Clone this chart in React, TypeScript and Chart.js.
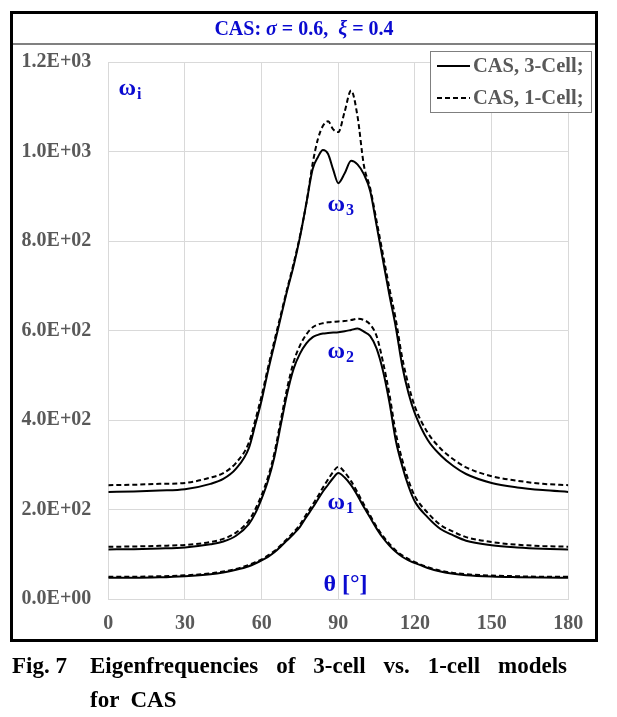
import React, { useEffect, useRef } from "react";
import { Chart, registerables } from "chart.js";

Chart.register(...registerables);

// ---- data ----
const theta = [0, 10, 20, 30, 40, 45, 50, 55, 57.5, 60, 62.5, 65, 67.5, 70, 72.5, 75, 77.5, 80, 82, 84, 86, 88, 90, 92.5, 95, 97.5, 100, 102.5, 105, 107.5, 110, 112.5, 115, 117.5, 120, 125, 130, 135, 140, 150, 160, 170, 180];

const w1Cell3 = [48, 48, 49, 51.5, 56, 60, 66, 74, 80, 87, 95, 105, 118, 132, 146, 162, 184, 205, 223, 241, 256, 271, 282, 272, 255, 232, 206, 182, 158, 137, 120, 106, 95, 87, 81, 70, 62, 57, 54, 51, 49.5, 48.5, 48];
const w1Cell1 = [50.5, 50.5, 51.5, 53.5, 58, 62, 68, 77, 83, 89, 98, 108, 121, 135, 150, 167, 190, 212, 230, 250, 268, 285, 296, 284, 264, 239, 212, 187, 162, 141, 124, 109, 98, 90, 83, 72, 64, 59, 56, 53, 51.5, 50.5, 50.5];

const w2Cell3 = [111.5, 112, 113.5, 116, 123, 129, 142, 168, 192, 225, 265, 318, 390, 460, 515, 549, 572, 586, 591, 594, 595, 596, 597, 599, 602, 605, 598, 588, 560, 510, 440, 355, 298, 252, 218, 183, 157, 143, 131, 121, 116, 113, 111.5];
const w2Cell1 = [117.5, 118, 119.5, 121.5, 128, 135, 149, 176, 201, 233, 273, 327, 400, 472, 530, 567, 592, 608, 614, 617, 619, 620, 621, 622, 624, 627, 624, 614, 588, 530, 458, 372, 312, 265, 230, 193, 166, 151, 139, 128, 122, 119, 117.5];

const w3Cell3 = [240, 241, 243, 246, 258, 269, 292, 338, 390, 445, 510, 570, 630, 690, 745, 809, 885, 962, 988, 1004, 995, 960, 930, 952, 980, 972, 950, 912, 835, 757, 680, 608, 522, 460, 415, 356, 322, 298, 280, 260, 250, 244, 240];
const w3Cell1 = [255, 256, 258, 260, 272, 282, 305, 350, 400, 455, 518, 578, 636, 694, 750, 812, 885, 975, 1028, 1058, 1068, 1050, 1044, 1090, 1137, 1080, 970, 918, 845, 770, 695, 625, 540, 478, 430, 372, 337, 313, 295, 275, 265, 258, 255];

const yTickLabels = ["0.0E+00", "2.0E+02", "4.0E+02", "6.0E+02", "8.0E+02", "1.0E+03", "1.2E+03"];
const xTickLabels = ["0", "30", "60", "90", "120", "150", "180"];
const legendLabels = ["CAS, 3-Cell;", "CAS, 1-Cell;"];

// annotation texts anchored at data coordinates (theta, value)
const annoText = ["ω", "ω", "ω", "ω", "θ [°]"];
const annoSub = ["i", "3", "2", "1", ""];
const annoTheta = [4.0, 85.8, 85.8, 85.8, 84.2];
const annoValue = [1140, 882, 552, 215, 32];

const BLUE = "#0a0ad0";
const GRAY = "#595959";
const SERIF = "'Liberation Serif', 'Times New Roman', serif";

const pts = (ys: number[]) => theta.map((t, i) => ({ x: t, y: ys[i] }));

const legendPlugin = {
  id: "customLegend",
  afterDraw(chart: any) {
    const ctx = chart.ctx;
    ctx.save();
    ctx.fillStyle = "#ffffff";
    ctx.fillRect(430.5, 51.5, 161, 61);
    ctx.strokeStyle = "#7f7f7f";
    ctx.lineWidth = 1;
    ctx.strokeRect(430.5, 51.5, 161, 61);
    const rows = [66, 98];
    const dashes = [[], [5, 3]];
    rows.forEach((y, i) => {
      ctx.beginPath();
      ctx.setLineDash(dashes[i]);
      ctx.strokeStyle = "#000";
      ctx.lineWidth = 2;
      ctx.moveTo(437, y);
      ctx.lineTo(470, y);
      ctx.stroke();
      ctx.setLineDash([]);
      ctx.fillStyle = GRAY;
      ctx.font = `bold 20.5px ${SERIF}`;
      ctx.textAlign = "left";
      ctx.textBaseline = "middle";
      ctx.fillText(legendLabels[i], 473, y + 1);
    });
    ctx.restore();
  },
};

const annoPlugin = {
  id: "annos",
  afterDatasetsDraw(chart: any) {
    const ctx = chart.ctx;
    const xs = chart.scales.x;
    const ys = chart.scales.y;
    ctx.save();
    ctx.fillStyle = BLUE;
    ctx.textAlign = "left";
    ctx.textBaseline = "middle";
    annoText.forEach((t, i) => {
      const x = xs.getPixelForValue(annoTheta[i]);
      const y = ys.getPixelForValue(annoValue[i]);
      ctx.font = `bold 24px ${SERIF}`;
      ctx.fillText(t, x, y);
      const w = ctx.measureText(t).width;
      if (annoSub[i]) {
        ctx.font = `bold 16px ${SERIF}`;
        ctx.fillText(annoSub[i], x + w + 1, y + 6);
      }
    });
    ctx.restore();
  },
};

export default function App() {
  const ref = useRef<HTMLCanvasElement | null>(null);

  useEffect(() => {
    if (!ref.current) return;
    const solid = { borderColor: "#000", borderWidth: 2, pointRadius: 0, cubicInterpolationMode: "monotone" as const, fill: false };
    const dashed = { ...solid, borderDash: [5, 3] };
    const chart = new Chart(ref.current, {
      type: "line",
      data: {
        datasets: [
          { label: legendLabels[1], data: pts(w1Cell1), ...dashed },
          { label: legendLabels[1], data: pts(w2Cell1), ...dashed },
          { label: legendLabels[1], data: pts(w3Cell1), ...dashed },
          { label: legendLabels[0], data: pts(w1Cell3), ...solid },
          { label: legendLabels[0], data: pts(w2Cell3), ...solid },
          { label: legendLabels[0], data: pts(w3Cell3), ...solid },
        ],
      },
      options: {
        animation: false,
        responsive: false,
        parsing: false as any,
        layout: { padding: { left: 10, top: 62.3, right: 48.7, bottom: 77.7 } },
        plugins: { legend: { display: false }, tooltip: { enabled: false } },
        scales: {
          x: {
            type: "linear",
            min: 0,
            max: 180,
            afterFit: (s: any) => { s.height = 40; },
            ticks: {
              stepSize: 30,
              color: GRAY,
              padding: 13,
              maxRotation: 0,
              font: { family: SERIF, size: 20, weight: "bold" },
              callback: (v: any) => xTickLabels[Math.round(Number(v) / 30)] ?? "",
            },
            grid: { color: "#d9d9d9", lineWidth: 1, drawTicks: false },
            border: { color: "#d9d9d9" },
          },
          y: {
            type: "linear",
            min: 0,
            max: 1200,
            afterFit: (s: any) => { s.width = 98.3; },
            ticks: {
              stepSize: 200,
              color: GRAY,
              padding: 17,
              font: { family: SERIF, size: 20, weight: "bold" },
              callback: (v: any) => yTickLabels[Math.round(Number(v) / 200)] ?? "",
            },
            grid: { color: "#d9d9d9", lineWidth: 1, drawTicks: false },
            border: { color: "#d9d9d9" },
          },
        },
      },
      plugins: [annoPlugin, legendPlugin],
    });
    return () => chart.destroy();
  }, []);

  const abs: React.CSSProperties = { position: "absolute", pointerEvents: "none" };
  const captionFont: React.CSSProperties = { fontFamily: SERIF, fontWeight: "bold", fontSize: 23, lineHeight: "26px", color: "#000" };

  return (
    <div style={{ position: "absolute", left: 0, top: 0, width: 617, height: 717, background: "#fff" }}>
      <canvas ref={ref} width={617} height={717} style={{ position: "absolute", left: 0, top: 0, width: 617, height: 717 }} />
      <div style={{ ...abs, left: 10, top: 11, width: 588, height: 631, border: "3px solid #000", boxSizing: "border-box" }} />
      <div style={{ ...abs, left: 13, top: 42.5, width: 582, height: 2, background: "#808080" }} />
      <div style={{ ...abs, left: 13, top: 14, width: 582, height: 28, display: "flex", alignItems: "center", justifyContent: "center", fontFamily: SERIF, fontWeight: "bold", fontSize: 20, color: BLUE, whiteSpace: "pre" }}>
        <span>CAS: </span><i>σ</i><span> = 0.6,  </span><i>ξ</i><span> = 0.4</span>
      </div>
      <div style={{ ...abs, ...captionFont, left: 12, top: 653 }}>Fig. 7</div>
      <div style={{ ...abs, ...captionFont, left: 90, top: 653, width: 477, textAlign: "justify", textAlignLast: "justify" }}>
        Eigenfrequencies of 3-cell vs. 1-cell models
      </div>
      <div style={{ ...abs, ...captionFont, left: 90, top: 687, whiteSpace: "pre" }}>for  CAS</div>
    </div>
  );
}
